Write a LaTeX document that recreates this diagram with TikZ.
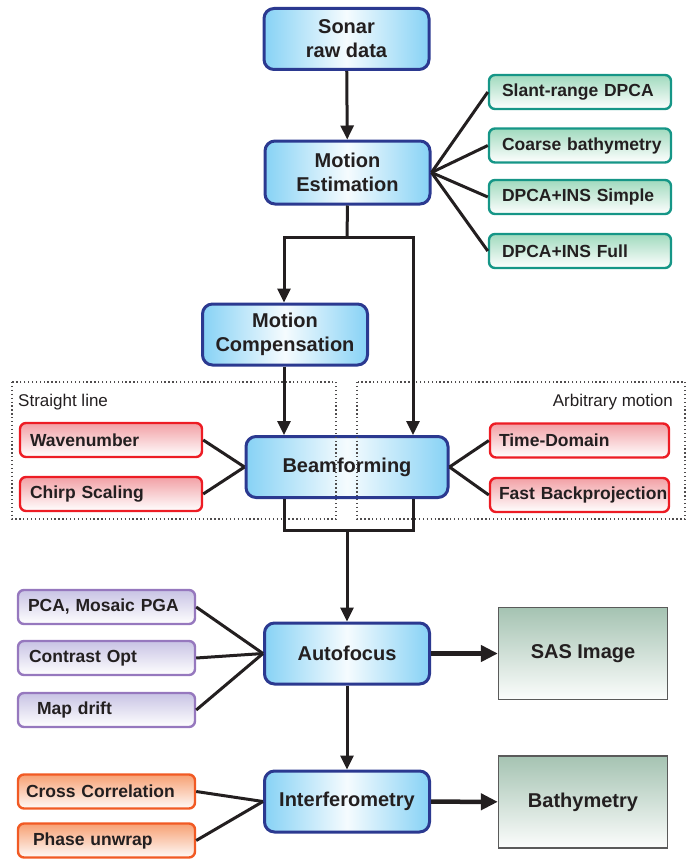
\documentclass[tikz,border=0pt]{standalone}
\usepackage{fontspec}
\setmainfont{Liberation Sans}
\usetikzlibrary{arrows.meta}
\definecolor{mainborder}{RGB}{43,57,144}
\definecolor{mainblue}{RGB}{135,210,245}
\definecolor{txt}{RGB}{35,31,32}
\definecolor{tealb}{RGB}{22,150,135}
\definecolor{tealf}{RGB}{160,218,190}
\definecolor{redb}{RGB}{237,28,36}
\definecolor{redf}{RGB}{242,160,165}
\definecolor{purb}{RGB}{150,120,190}
\definecolor{purf}{RGB}{200,195,228}
\definecolor{orb}{RGB}{241,90,36}
\definecolor{orf}{RGB}{247,160,115}
\definecolor{grayb}{RGB}{90,90,90}
\definecolor{grayf}{RGB}{165,195,178}
\tikzset{
  mainbox/.style={draw=mainborder, line width=3pt, rounded corners=10pt,
    minimum width=165pt, minimum height=61pt, left color=mainblue, right color=mainblue,
    middle color=white!92!mainblue, font=\fontsize{20}{24}\selectfont\bfseries,
    text=txt, align=center, inner sep=2pt},
  smallbox/.style={line width=2.4pt, rounded corners=6pt, minimum height=34pt,
    align=left, font=\fontsize{17.5}{20}\selectfont\bfseries,
    text=txt, inner ysep=2pt},
  gbox/.style={smallbox, draw=tealb, top color=tealf, bottom color=white,
    text width=156pt, inner xsep=13pt},
  rboxl/.style={smallbox, draw=redb, top color=redf, bottom color=white,
    text width=162pt, inner xsep=10pt},
  rboxr/.style={smallbox, draw=redb, top color=redf, bottom color=white,
    text width=161pt, inner xsep=9pt},
  pbox/.style={smallbox, draw=purb, top color=purf, bottom color=white,
    text width=157pt, inner xsep=10pt},
  obox/.style={smallbox, draw=orb, top color=orf, bottom color=white!95!orf,
    text width=161pt, inner xsep=8pt},
  outbox/.style={draw=grayb, line width=1.3pt, top color=grayf, bottom color=white!96!grayf,
    minimum width=169pt, minimum height=92pt, font=\fontsize{20}{24}\selectfont\bfseries, text=txt},
  conn/.style={line width=3pt, draw=txt},
  arr/.style={conn, -{Triangle[length=14pt,width=13pt]}},
  bigarr/.style={line width=4.5pt, draw=txt, -{Triangle[length=17pt,width=16pt]}},
  region/.style={draw=txt!80, line width=1.3pt, dash pattern=on 1.3pt off 2.6pt},
  regionlabel/.style={font=\fontsize{17}{20}\selectfont, text=txt, inner sep=0pt}
}
\begin{document}
\begin{tikzpicture}[x=1pt,y=-1pt]
\useasboundingbox (0,0) rectangle (694,859);
% main nodes
\node[mainbox] (sonar) at (346.5,39) {Sonar\\raw data};
\node[mainbox, minimum height=63pt] (me) at (347.5,172.5) {Motion\\Estimation};
\node[mainbox] (mc) at (285,334.5) {Motion\\Compensation};
\node[mainbox, minimum width=202pt] (bf) at (347,467) {Beamforming};
\node[mainbox] (af) at (347,653.5) {Autofocus};
\node[mainbox] (inf) at (347,801.5) {Interferometry};
% outputs
\node[outbox] (sas) at (583,653.5) {SAS Image};
\node[outbox] (bath) at (583,802) {Bathymetry};
% motion estimation methods
\node[gbox] (g1) at (580,92) {\mbox{Slant-range DPCA}};
\node[gbox] (g2) at (580,145.5) {\mbox{Coarse bathymetry}};
\node[gbox] (g3) at (580,197) {\mbox{DPCA+INS Simple}};
\node[gbox] (g4) at (580,251) {\mbox{DPCA+INS Full}};
% beamforming methods
\node[rboxl] (r1) at (111,440) {\mbox{Wavenumber}};
\node[rboxl] (r2) at (111,494) {\mbox{Chirp Scaling}};
\node[rboxr] (r3) at (579.5,440.5) {\mbox{Time-Domain}};
\node[rboxr] (r4) at (579.5,495) {\mbox{Fast Backprojection}};
% autofocus methods
\node[pbox] (p1) at (106.5,607) {\mbox{PCA, Mosaic PGA}};
\node[pbox] (p2) at (106.5,658) {\hspace{1pt}\mbox{Contrast Opt}};
\node[pbox] (p3) at (106.5,710) {\hspace{9pt}\mbox{Map drift}};
% interferometry methods
\node[obox] (o1) at (106.5,791.5) {\mbox{Cross Correlation}};
\node[obox] (o2) at (106.5,840.5) {\hspace{7pt}\mbox{Phase unwrap}};
% regions
\draw[region] (12,382) rectangle (336,519);
\draw[region] (357,382) rectangle (685,519);
\node[regionlabel, anchor=base west] (lblS) at (18,406) {Straight line};
\node[regionlabel, anchor=base east] (lblA) at (673,406) {Arbitrary motion};
% coordinates for splits
\coordinate (split1) at (347,237);
\coordinate (split1l) at (284,237);
\coordinate (split1r) at (413,237);
\coordinate (split2) at (347,530);
\coordinate (split2l) at (284,530);
\coordinate (split2r) at (413,530);
% main flow
\draw[arr] (sonar) -- (me);
\draw[conn] (me.south) -- (split1);
\draw[conn, line cap=rect] (split1l) -- (split1r);
\draw[arr] (split1l) -- (split1l |- mc.north);
\draw[arr] (split1r) -- (split1r |- bf.north);
\draw[arr] (mc.south -| split1l) -- (split1l |- bf.north);
\draw[conn] (split2l |- bf.south) -- (split2l) -- (split2r) -- (split2r |- bf.south);
\draw[arr] (split2) -- (af.north);
\draw[arr] (af) -- (inf);
\draw[bigarr] (af) -- (sas);
\draw[bigarr] (inf) -- (bath);
% method connectors
\foreach \n in {g1,g2,g3,g4} \draw[conn] (me.east) -- (\n.west);
\foreach \n in {r1,r2} \draw[conn] (bf.west) -- (\n.east);
\foreach \n in {r3,r4} \draw[conn] (bf.east) -- (\n.west);
\foreach \n in {p1,p2,p3} \draw[conn] (af.west) -- (\n.east);
\foreach \n in {o1,o2} \draw[conn] (inf.west) -- (\n.east);
\end{tikzpicture}
\end{document}
